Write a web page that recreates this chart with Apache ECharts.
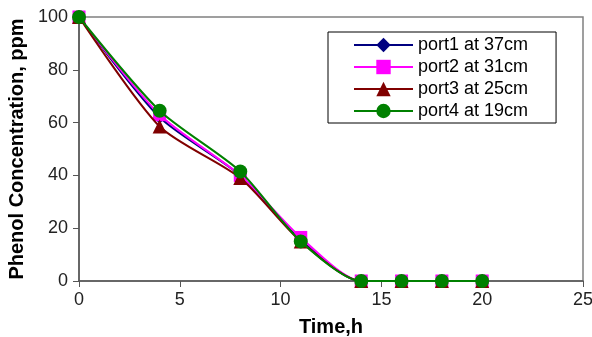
<!DOCTYPE html>
<html>
<head>
<meta charset="utf-8">
<script src="https://cdn.jsdelivr.net/npm/echarts@6/dist/echarts.min.js"></script>
<style>
  html, body { margin: 0; padding: 0; background: #fff; }
  #chart { width: 592px; height: 337px; }
</style>
</head>
<body>
<div id="chart"></div>
<script>
// time points, h
var hours = [0, 4, 8, 11, 14, 16, 18, 20];
// phenol concentration, ppm
var port1 = [100, 62, 40, 15.5, 0, 0, 0, 0];
var port2 = [100, 63, 40, 16.5, 0, 0, 0, 0];
var port3 = [100, 58.5, 39, 15, 0, 0, 0, 0];
var port4 = [100, 64.5, 41.5, 15, 0, 0, 0, 0];
var names = ['port1 at 37cm', 'port2 at 31cm', 'port3 at 25cm', 'port4 at 19cm'];
var colors = ['#000080', '#ff00ff', '#800000', '#008000'];
var symbols = ['diamond', 'rect', 'triangle', 'circle'];
var sizes = [13, 13, 14, 14];

function pairs(ys) {
  var out = [];
  for (var i = 0; i < hours.length; i++) out.push([hours[i], ys[i]]);
  return out;
}

var all = [port1, port2, port3, port4];
var series = [];
for (var k = 0; k < all.length; k++) {
  series.push({
    name: names[k],
    type: 'line',
    data: pairs(all[k]),
    smooth: 0.25,
    symbol: symbols[k],
    symbolSize: sizes[k],
    lineStyle: { color: colors[k], width: 2 },
    itemStyle: { color: colors[k] },
    z: 2 + k
  });
}

var chart = echarts.init(document.getElementById('chart'));
chart.setOption({
  animation: false,
  backgroundColor: '#fff',
  textStyle: { fontFamily: 'Liberation Sans, Arial, sans-serif' },
  grid: {
    left: 79, right: 9, top: 17, bottom: 56,
    outerBoundsMode: 'none',
    show: true, borderColor: '#808080', borderWidth: 1.5
  },
  legend: {
    orient: 'vertical',
    left: 328, top: 32,
    padding: [4, 28, 3, 25],
    itemGap: 4,
    itemWidth: 59, itemHeight: 18,
    borderColor: '#000', borderWidth: 1,
    textStyle: { fontSize: 18, color: '#000' },
    data: names
  },
  xAxis: {
    type: 'value', min: 0, max: 25, interval: 5,
    name: 'Time,h', nameLocation: 'middle', nameGap: 36,
    nameTextStyle: { fontSize: 20, fontWeight: 'bold', color: '#000' },
    axisLine: { lineStyle: { color: '#555', width: 1.5 } },
    axisTick: { show: true, length: 6, lineStyle: { color: '#555' } },
    axisLabel: { fontSize: 18, color: '#222', margin: 10 },
    splitLine: { show: false }
  },
  yAxis: {
    type: 'value', min: 0, max: 100, interval: 20,
    name: 'Phenol Concentration, ppm', nameLocation: 'middle', nameGap: 50,
    nameTextStyle: { fontSize: 20, fontWeight: 'bold', color: '#000' },
    axisLine: { show: true, lineStyle: { color: '#555', width: 1.5 } },
    axisTick: { show: true, length: 6, lineStyle: { color: '#555' } },
    axisLabel: { fontSize: 18, color: '#222', margin: 11 },
    splitLine: { show: false }
  },
  series: series
});
</script>
</body>
</html>
